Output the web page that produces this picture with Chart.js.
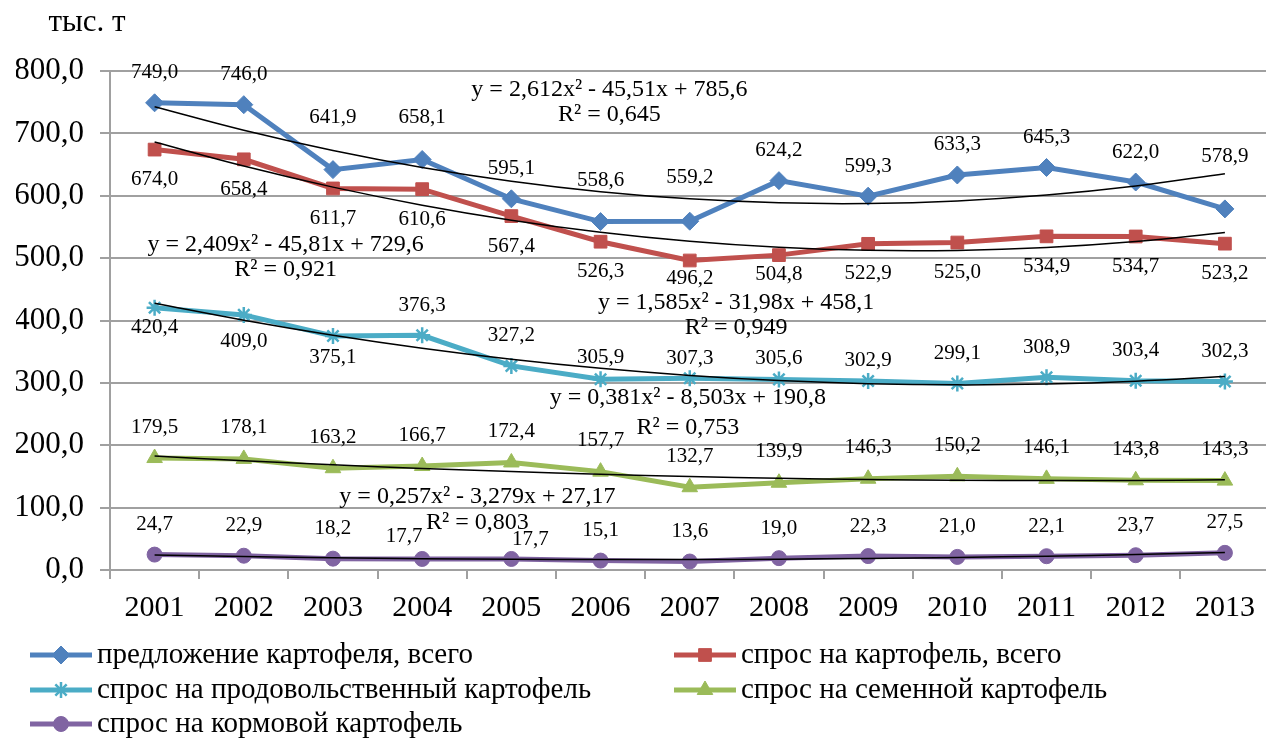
<!DOCTYPE html>
<html lang="ru">
<head>
<meta charset="utf-8">
<title>Предложение и спрос на картофель</title>
<script src="https://cdn.jsdelivr.net/npm/chart.js@4.4.1/dist/chart.umd.min.js"></script>
<style>
  html, body { margin: 0; padding: 0; background: #fff; overflow: hidden; }
  canvas { display: block; }
</style>
</head>
<body>
<canvas id="chart" width="1280" height="740"></canvas>
<script>
// -----------------------------
// Data
// -----------------------------
const years = ['2001', '2002', '2003', '2004', '2005', '2006', '2007', '2008', '2009', '2010', '2011', '2012', '2013'];
const supplyTotal = [749.0, 746.0, 641.9, 658.1, 595.1, 558.6, 559.2, 624.2, 599.3, 633.3, 645.3, 622.0, 578.9];
const demandTotal = [674.0, 658.4, 611.7, 610.6, 567.4, 526.3, 496.2, 504.8, 522.9, 525.0, 534.9, 534.7, 523.2];
const demandFood = [420.4, 409.0, 375.1, 376.3, 327.2, 305.9, 307.3, 305.6, 302.9, 299.1, 308.9, 303.4, 302.3];
const demandSeed = [179.5, 178.1, 163.2, 166.7, 172.4, 157.7, 132.7, 139.9, 146.3, 150.2, 146.1, 143.8, 143.3];
const demandFeed = [24.7, 22.9, 18.2, 17.7, 17.7, 15.1, 13.6, 19.0, 22.3, 21.0, 22.1, 23.7, 27.5];
const yTicks = [0, 100, 200, 300, 400, 500, 600, 700, 800];

// polynomial trends as printed on the chart: y = a*x^2 + b*x + c
const trendSupply = [2.612, -45.51, 785.6];
const trendDemand = [2.409, -45.81, 729.6];
const trendFood = [1.585, -31.98, 458.1];
const trendSeed = [0.381, -8.503, 190.8];
const trendFeed = [0.257, -3.279, 27.17];
const trendR2 = ['0,645', '0,921', '0,949', '0,753', '0,803'];

const seriesNames = [
  'предложение картофеля, всего',
  'спрос на картофель, всего',
  'спрос на продовольственный картофель',
  'спрос на семенной картофель',
  'спрос на кормовой картофель'
];
const seriesValues = [supplyTotal, demandTotal, demandFood, demandSeed, demandFeed];
const seriesTrends = [trendSupply, trendDemand, trendFood, trendSeed, trendFeed];

// -----------------------------
// Styles
// -----------------------------
const FONT = "'Liberation Serif', 'Times New Roman', serif";
const colors = ['#4F81BD', '#C0504D', '#4BACC6', '#9BBB59', '#8064A2'];
const markers = ['rectRot', 'rect', 'star', 'triangle', 'circle'];
const markerRadius = [9, 9, 8, 9, 7.5];
const markerBorder = [1, 1, 2.5, 1, 1];

// value label offsets (px) per series, with a few hand-moved labels
const labelShift = [
  { dy: -30, fix: { 2: [0, -52], 3: [0, -42], 5: [0, -41], 6: [0, -44], 12: [0, -52] } },
  { dy: 30, fix: { 6: [0, 18], 7: [0, 19] } },
  { dy: -30, fix: { 0: [0, 20], 1: [0, 27], 2: [0, 21], 5: [0, -22], 6: [0, -20], 7: [0, -21], 8: [0, -21] } },
  { dy: -31, fix: {} },
  { dy: -30, fix: { 3: [-18, -22], 4: [19, -19] } }
];
// trend equation placement in axis units: [category index, equation y, R² y]
const trendLabelAt = [
  [5.1, 769.5, 729.5],
  [1.47, 521, 481],
  [6.52, 428, 388],
  [5.98, 275.7, 227.6],
  [3.62, 117, 75.4]
];

const fmt = v => v.toFixed(1).replace('.', ',');
const num = v => String(v).replace('.', ',');

function trendValues(coef) {
  return years.map((_, i) => {
    const x = i + 1;
    return coef[0] * x * x + coef[1] * x + coef[2];
  });
}

function trendText(coef) {
  const b = coef[1] < 0 ? ' - ' + num(-coef[1]) : ' + ' + num(coef[1]);
  const c = coef[2] < 0 ? ' - ' + num(-coef[2]) : ' + ' + num(coef[2]);
  return 'y = ' + num(coef[0]) + 'x²' + b + 'x' + c;
}

// -----------------------------
// Plugin: value labels, trend equations, title, legend
// -----------------------------
const decorPlugin = {
  id: 'decor',
  afterDatasetsDraw(chart) {
    const ctx = chart.ctx;
    const xs = chart.scales.x;
    const ys = chart.scales.y;
    ctx.save();
    ctx.fillStyle = '#000';
    ctx.textAlign = 'center';
    ctx.textBaseline = 'middle';

    // value labels
    ctx.font = '21px ' + FONT;
    seriesValues.forEach((vals, s) => {
      const meta = chart.getDatasetMeta(s);
      const sh = labelShift[s];
      meta.data.forEach((pt, j) => {
        const off = sh.fix[j] || [0, sh.dy];
        ctx.fillText(fmt(vals[j]), pt.x + off[0], pt.y + off[1]);
      });
    });

    // trend equations
    ctx.font = '24px ' + FONT;
    seriesTrends.forEach((coef, s) => {
      const at = trendLabelAt[s];
      const x = xs.getPixelForValue(at[0]);
      ctx.fillText(trendText(coef), x, ys.getPixelForValue(at[1]));
      ctx.fillText('R² = ' + trendR2[s], x, ys.getPixelForValue(at[2]));
    });
    ctx.restore();
  },
  afterDraw(chart) {
    const ctx = chart.ctx;
    ctx.save();
    ctx.fillStyle = '#000';
    ctx.textBaseline = 'middle';

    // axis unit title
    ctx.font = '31px ' + FONT;
    ctx.textAlign = 'center';
    ctx.fillText('тыс. т', 87, 23);

    // legend, two columns
    const colX = [30, 674];
    const rowY = [655, 690, 724];
    const lineLen = 62;
    ctx.font = '29px ' + FONT;
    ctx.textAlign = 'left';
    seriesNames.forEach((name, s) => {
      const x0 = colX[s % 2];
      const y = rowY[Math.floor(s / 2)];
      ctx.strokeStyle = colors[s];
      ctx.lineWidth = 5;
      ctx.beginPath();
      ctx.moveTo(x0, y);
      ctx.lineTo(x0 + lineLen, y);
      ctx.stroke();
      ctx.fillStyle = colors[s];
      ctx.lineWidth = markerBorder[s];
      Chart.helpers.drawPoint(ctx, {
        pointStyle: markers[s],
        radius: markerRadius[s],
        rotation: 0,
        borderWidth: markerBorder[s]
      }, x0 + lineLen / 2, y);
      ctx.fillStyle = '#000';
      ctx.fillText(name, x0 + lineLen + 5, y);
    });
    ctx.restore();
  }
};

// -----------------------------
// Datasets
// -----------------------------
const datasets = [];
seriesValues.forEach((vals, s) => {
  datasets.push({
    label: seriesNames[s],
    data: vals,
    borderColor: colors[s],
    backgroundColor: colors[s],
    borderWidth: 5,
    pointStyle: markers[s],
    pointRadius: markerRadius[s],
    pointBorderWidth: markerBorder[s],
    pointBackgroundColor: colors[s],
    pointBorderColor: colors[s],
    tension: 0,
    order: 5 - s + 1
  });
});
seriesTrends.forEach((coef, s) => {
  datasets.push({
    label: 'trend ' + s,
    data: trendValues(coef),
    borderColor: '#000',
    borderWidth: 1.5,
    pointRadius: 0,
    tension: 0.4,
    order: 0
  });
});

new Chart(document.getElementById('chart'), {
  type: 'line',
  data: { labels: years, datasets },
  options: {
    responsive: false,
    animation: false,
    layout: { padding: { top: 71, left: 16, right: 1, bottom: 103 } },
    plugins: { legend: { display: false }, tooltip: { enabled: false } },
    scales: {
      x: {
        offset: true,
        grid: { offset: true, drawOnChartArea: false, drawTicks: true, tickLength: 9, color: '#A0A0A0', lineWidth: 2 },
        border: { color: '#A0A0A0', width: 2 },
        ticks: { color: '#000', font: { family: FONT, size: 30 }, padding: 11, maxRotation: 0, autoSkip: false }
      },
      y: {
        min: 0,
        max: 800,
        afterFit(scale) { scale.width = 94; },
        afterBuildTicks(scale) { scale.ticks = yTicks.map(v => ({ value: v })); },
        grid: { color: '#A0A0A0', lineWidth: 2, tickLength: 10 },
        border: { color: '#A0A0A0', width: 2 },
        ticks: { color: '#000', font: { family: FONT, size: 31 }, padding: 16, callback: v => fmt(v) }
      }
    }
  },
  plugins: [decorPlugin]
});
</script>
</body>
</html>
